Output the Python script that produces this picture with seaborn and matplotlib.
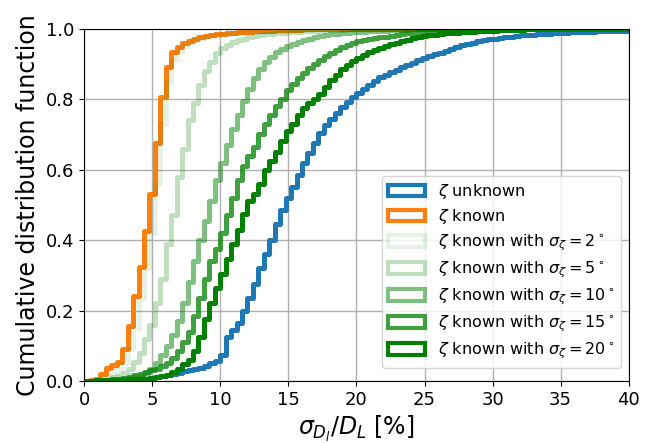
import numpy as np
import matplotlib
matplotlib.use("Agg")
import matplotlib.pyplot as plt
import seaborn as sns
from matplotlib.patches import Patch

# bin edges of the cumulative histograms (sigma_D / D_L in %)
bin_width = 0.4
edges = np.linspace(0, 40, 101)

# cumulative fraction, one value per bin
cdf_unknown = [
    0.000, 0.000, 0.001, 0.001, 0.002, 0.002, 0.003, 0.003, 0.004, 0.005,
    0.006, 0.007, 0.009, 0.012, 0.015, 0.018, 0.021, 0.024, 0.027, 0.030,
    0.034, 0.038, 0.043, 0.050, 0.058, 0.075, 0.125, 0.145, 0.165, 0.200,
    0.235, 0.275, 0.320, 0.360, 0.400, 0.445, 0.485, 0.520, 0.550, 0.585,
    0.620, 0.647, 0.676, 0.705, 0.728, 0.745, 0.762, 0.778, 0.792, 0.805,
    0.817, 0.830, 0.840, 0.851, 0.862, 0.870, 0.877, 0.884, 0.892, 0.898,
    0.904, 0.911, 0.917, 0.923, 0.928, 0.932, 0.938, 0.943, 0.947, 0.953,
    0.957, 0.961, 0.965, 0.967, 0.970, 0.972, 0.974, 0.976, 0.978, 0.980,
    0.981, 0.982, 0.983, 0.984, 0.985, 0.986, 0.987, 0.988, 0.989, 0.990,
    0.990, 0.991, 0.992, 0.992, 0.993, 0.993, 0.994, 0.994, 0.995, 0.995,
]
cdf_known = [
    0.000, 0.002, 0.006, 0.020, 0.037, 0.045, 0.055, 0.090, 0.155, 0.240,
    0.325, 0.425, 0.530, 0.676, 0.807, 0.892, 0.935, 0.949, 0.960, 0.966,
    0.972, 0.976, 0.979, 0.982, 0.984, 0.986, 0.988, 0.989, 0.990, 0.991,
    0.992, 0.993, 0.994, 0.995, 0.995, 0.996, 0.996, 0.997, 0.997, 0.997,
    0.998, 0.998, 0.998, 0.999, 0.999, 0.999, 0.999, 0.999, 0.999, 0.999,
    1.000, 1.000, 1.000, 1.000, 1.000, 1.000, 1.000, 1.000, 1.000, 1.000,
    1.000, 1.000, 1.000, 1.000, 1.000, 1.000, 1.000, 1.000, 1.000, 1.000,
    1.000, 1.000, 1.000, 1.000, 1.000, 1.000, 1.000, 1.000, 1.000, 1.000,
    1.000, 1.000, 1.000, 1.000, 1.000, 1.000, 1.000, 1.000, 1.000, 1.000,
    1.000, 1.000, 1.000, 1.000, 1.000, 1.000, 1.000, 1.000, 1.000, 1.000,
]
cdf_sig2 = [
    0.000, 0.000, 0.002, 0.006, 0.012, 0.020, 0.035, 0.050, 0.090, 0.150,
    0.235, 0.320, 0.420, 0.560, 0.730, 0.850, 0.910, 0.935, 0.950, 0.960,
    0.967, 0.972, 0.976, 0.979, 0.982, 0.984, 0.986, 0.987, 0.988, 0.989,
    0.990, 0.991, 0.992, 0.993, 0.994, 0.995, 0.995, 0.996, 0.996, 0.997,
    0.997, 0.997, 0.998, 0.998, 0.998, 0.998, 0.999, 0.999, 0.999, 0.999,
    0.999, 1.000, 1.000, 1.000, 1.000, 1.000, 1.000, 1.000, 1.000, 1.000,
    1.000, 1.000, 1.000, 1.000, 1.000, 1.000, 1.000, 1.000, 1.000, 1.000,
    1.000, 1.000, 1.000, 1.000, 1.000, 1.000, 1.000, 1.000, 1.000, 1.000,
    1.000, 1.000, 1.000, 1.000, 1.000, 1.000, 1.000, 1.000, 1.000, 1.000,
    1.000, 1.000, 1.000, 1.000, 1.000, 1.000, 1.000, 1.000, 1.000, 1.000,
]
cdf_sig5 = [
    0.000, 0.000, 0.001, 0.003, 0.006, 0.010, 0.015, 0.022, 0.035, 0.055,
    0.080, 0.120, 0.160, 0.220, 0.290, 0.390, 0.470, 0.580, 0.660, 0.740,
    0.790, 0.840, 0.880, 0.905, 0.930, 0.946, 0.955, 0.962, 0.968, 0.972,
    0.976, 0.979, 0.982, 0.984, 0.986, 0.988, 0.989, 0.990, 0.991, 0.992,
    0.993, 0.994, 0.995, 0.995, 0.996, 0.996, 0.997, 0.997, 0.998, 0.998,
    0.998, 0.998, 0.999, 0.999, 0.999, 0.999, 0.999, 0.999, 1.000, 1.000,
    1.000, 1.000, 1.000, 1.000, 1.000, 1.000, 1.000, 1.000, 1.000, 1.000,
    1.000, 1.000, 1.000, 1.000, 1.000, 1.000, 1.000, 1.000, 1.000, 1.000,
    1.000, 1.000, 1.000, 1.000, 1.000, 1.000, 1.000, 1.000, 1.000, 1.000,
    1.000, 1.000, 1.000, 1.000, 1.000, 1.000, 1.000, 1.000, 1.000, 1.000,
]
cdf_sig10 = [
    0.000, 0.000, 0.001, 0.002, 0.003, 0.004, 0.005, 0.006, 0.008, 0.011,
    0.015, 0.022, 0.035, 0.050, 0.075, 0.100, 0.130, 0.170, 0.220, 0.280,
    0.340, 0.400, 0.455, 0.510, 0.570, 0.620, 0.670, 0.715, 0.755, 0.795,
    0.830, 0.860, 0.885, 0.905, 0.920, 0.933, 0.942, 0.950, 0.956, 0.962,
    0.967, 0.972, 0.976, 0.979, 0.982, 0.984, 0.986, 0.988, 0.989, 0.990,
    0.991, 0.992, 0.993, 0.994, 0.995, 0.995, 0.996, 0.996, 0.997, 0.997,
    0.998, 0.998, 0.998, 0.999, 0.999, 0.999, 0.999, 0.999, 1.000, 1.000,
    1.000, 1.000, 1.000, 1.000, 1.000, 1.000, 1.000, 1.000, 1.000, 1.000,
    1.000, 1.000, 1.000, 1.000, 1.000, 1.000, 1.000, 1.000, 1.000, 1.000,
    1.000, 1.000, 1.000, 1.000, 1.000, 1.000, 1.000, 1.000, 1.000, 1.000,
]
cdf_sig15 = [
    0.000, 0.000, 0.001, 0.002, 0.003, 0.005, 0.007, 0.009, 0.012, 0.016,
    0.020, 0.025, 0.030, 0.035, 0.042, 0.050, 0.065, 0.085, 0.110, 0.140,
    0.185, 0.235, 0.290, 0.340, 0.375, 0.420, 0.470, 0.520, 0.570, 0.610,
    0.640, 0.665, 0.700, 0.730, 0.755, 0.780, 0.800, 0.825, 0.843, 0.860,
    0.875, 0.890, 0.900, 0.912, 0.922, 0.930, 0.940, 0.948, 0.954, 0.960,
    0.964, 0.967, 0.970, 0.973, 0.976, 0.978, 0.980, 0.983, 0.985, 0.987,
    0.989, 0.990, 0.991, 0.992, 0.993, 0.994, 0.995, 0.995, 0.996, 0.996,
    0.997, 0.997, 0.997, 0.998, 0.998, 0.998, 0.998, 0.999, 0.999, 0.999,
    0.999, 0.999, 0.999, 0.999, 1.000, 1.000, 1.000, 1.000, 1.000, 1.000,
    1.000, 1.000, 1.000, 1.000, 1.000, 1.000, 1.000, 1.000, 1.000, 1.000,
]
cdf_sig20 = [
    0.000, 0.001, 0.002, 0.002, 0.003, 0.003, 0.004, 0.004, 0.005, 0.005,
    0.006, 0.007, 0.008, 0.010, 0.013, 0.018, 0.025, 0.035, 0.048, 0.060,
    0.085, 0.125, 0.175, 0.220, 0.265, 0.305, 0.345, 0.390, 0.430, 0.475,
    0.510, 0.530, 0.560, 0.600, 0.625, 0.650, 0.680, 0.710, 0.730, 0.755,
    0.775, 0.790, 0.800, 0.815, 0.835, 0.855, 0.870, 0.885, 0.898, 0.908,
    0.918, 0.926, 0.933, 0.940, 0.946, 0.951, 0.956, 0.961, 0.965, 0.969,
    0.973, 0.976, 0.979, 0.981, 0.983, 0.985, 0.987, 0.988, 0.989, 0.990,
    0.991, 0.992, 0.993, 0.994, 0.995, 0.995, 0.996, 0.996, 0.997, 0.997,
    0.997, 0.998, 0.998, 0.998, 0.998, 0.999, 0.999, 0.999, 0.999, 0.999,
    0.999, 0.999, 1.000, 1.000, 1.000, 1.000, 1.000, 1.000, 1.000, 1.000,
]

labels = [
    r"$\zeta$ unknown",
    r"$\zeta$ known",
    r"$\zeta$ known with $\sigma_\zeta = 2^\circ$",
    r"$\zeta$ known with $\sigma_\zeta = 5^\circ$",
    r"$\zeta$ known with $\sigma_\zeta = 10^\circ$",
    r"$\zeta$ known with $\sigma_\zeta = 15^\circ$",
    r"$\zeta$ known with $\sigma_\zeta = 20^\circ$",
]
series = [cdf_unknown, cdf_known, cdf_sig2, cdf_sig5, cdf_sig10, cdf_sig15, cdf_sig20]
colors = ["#1f77b4", "#ff7f0e", "green", "green", "green", "green", "green"]
alphas = [1.0, 1.0, 0.1, 0.25, 0.5, 0.75, 1.0]

centers = 0.5 * (edges[:-1] + edges[1:])

fig = plt.figure(figsize=(6.57, 4.43), dpi=100)
ax = fig.add_axes([0.128, 0.14, 0.829, 0.795])

handles = []
for cdf, lab, c, a in zip(series, labels, colors, alphas):
    # per-bin weights so the cumulative histogram reproduces the read CDF
    w = np.diff(np.concatenate([[0.0], cdf]))
    sns.histplot(x=centers, weights=w, binwidth=bin_width, binrange=(0, 40),
                 cumulative=True, stat="count", element="step", fill=False,
                 color=c, alpha=a, linewidth=3.6, ax=ax)
    handles.append(Patch(facecolor="none", edgecolor=c, alpha=a, linewidth=3, label=lab))

ax.set_xlim(0, 40)
ax.set_ylim(0, 1.0)
ax.set_xticks(np.arange(0, 41, 5))
ax.set_yticks(np.arange(0, 1.01, 0.2))
ax.grid(True, color="#b0b0b0", linewidth=1.0)
ax.set_axisbelow(True)
ax.tick_params(labelsize=13)
ax.set_xlabel(r"$\sigma_{D_l}/D_L$ [%]", fontsize=17)
ax.set_ylabel("Cumulative distribution function", fontsize=17)
ax.legend(handles=handles, loc="lower right", bbox_to_anchor=(1.0, 0.015),
          fontsize=11.5, handlelength=2.3, labelspacing=0.4)

fig.savefig("out.png", dpi=100)
